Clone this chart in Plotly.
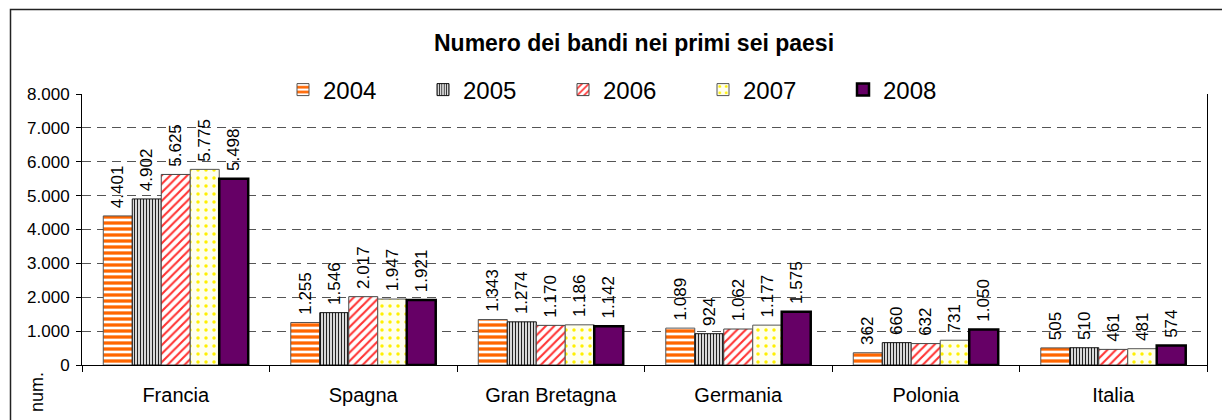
import plotly.graph_objects as go

categories = ["Francia", "Spagna", "Gran Bretagna", "Germania", "Polonia", "Italia"]
years = ["2004", "2005", "2006", "2007", "2008"]
v2004 = [4401, 1255, 1343, 1089, 362, 505]
v2005 = [4902, 1546, 1274, 924, 660, 510]
v2006 = [5625, 2017, 1170, 1062, 632, 461]
v2007 = [5775, 1947, 1186, 1177, 731, 481]
v2008 = [5498, 1921, 1142, 1575, 1050, 574]
series = [v2004, v2005, v2006, v2007, v2008]
y_ticks = [0, 1000, 2000, 3000, 4000, 5000, 6000, 7000, 8000]

styles = [
    dict(color="white", line=dict(color="#555", width=1),
         pattern=dict(shape="-", fgcolor="#FF6600", bgcolor="white", size=6,
                      solidity=0.55, fgopacity=1)),
    dict(color="white", line=dict(color="#111", width=1),
         pattern=dict(shape="|", fgcolor="#222", bgcolor="white", size=3,
                      solidity=0.45, fgopacity=1)),
    dict(color="white", line=dict(color="#444", width=1),
         pattern=dict(shape="/", fgcolor="#FF3333", bgcolor="white", size=6,
                      solidity=0.35, fgopacity=1)),
    dict(color="#FFFFEE", line=dict(color="#555", width=1),
         pattern=dict(shape=".", fgcolor="#FFF000", bgcolor="#FFFFEE", size=8,
                      solidity=0.15, fgopacity=1)),
    dict(color="#660066", line=dict(color="black", width=2.5)),
]

fig = go.Figure()
for name, vals, st in zip(years, series, styles):
    fig.add_trace(go.Bar(
        x=categories, y=vals, name=name, marker=st,
        texttemplate="\u00a0%{y:,.0f}", textposition="outside", textangle=-90,
        constraintext="none", cliponaxis=False,
        textfont=dict(family="Liberation Sans, Arial", size=17, color="black"),
    ))

# page body has an 8px margin: figure is 8px smaller and everything shifted
W, H = 1222, 412
L, R, T, B = 74, 23, 86, 55
pw, ph = W - L - R, H - T - B


def xp(x_ref):
    return (x_ref - 82) / pw


def yp(y_ref):
    return (365 - y_ref) / ph


fig.update_layout(
    width=W, height=H,
    margin=dict(l=L, r=R, t=T, b=B),
    paper_bgcolor="white", plot_bgcolor="white",
    separators=",.",
    barmode="group", bargap=0.227, bargroupgap=0,
    font=dict(family="Liberation Sans, Arial", color="black"),
    title=dict(text="<b>Numero dei bandi nei primi sei paesi</b>",
               x=xp(634), xref="paper", xanchor="center",
               y=1 - (43 - 8) / H, yref="container", yanchor="middle",
               font=dict(size=23, color="black")),
    legend=dict(orientation="h", x=xp(283), xanchor="left",
                y=yp(90), yanchor="middle",
                bgcolor="rgba(0,0,0,0)", borderwidth=0,
                font=dict(size=24, color="black"),
                entrywidth=95, itemwidth=30, traceorder="normal"),
    showlegend=True,
)

fig.update_yaxes(
    range=[0, 8000], tickvals=y_ticks, tickformat=",.0f",
    showgrid=True, gridcolor="#555", gridwidth=1, griddash="9px,6px",
    showline=True, linecolor="black", linewidth=1, mirror=True,
    ticks="outside", ticklen=5, tickcolor="black", ticklabelstandoff=3,
    tickfont=dict(size=17, color="black"), zeroline=False,
)
fig.update_xaxes(
    showline=True, linecolor="black", linewidth=1,
    ticks="outside", ticklen=6, tickcolor="black", tickson="boundaries",
    ticklabelstandoff=12,
    tickfont=dict(size=20, color="black"), showgrid=False,
)

# white band behind the legend that hides the top gridline
fig.add_shape(type="rect", xref="paper", yref="paper",
              x0=xp(265), x1=xp(995), y0=yp(98), y1=yp(82),
              line=dict(width=0), fillcolor="white", layer="above")

fig.add_shape(type="rect", xref="paper", yref="paper",
              x0=xp(10.5), x1=1.05, y0=-0.3, y1=yp(9.5),
              line=dict(color="#222", width=1.5), fillcolor="rgba(0,0,0,0)")

fig.add_annotation(text="num.", xref="paper", yref="paper",
                   x=xp(37), y=yp(392), showarrow=False,
                   textangle=-90, font=dict(size=18, color="black"),
                   xanchor="center", yanchor="middle")

fig.write_html("out.html")
